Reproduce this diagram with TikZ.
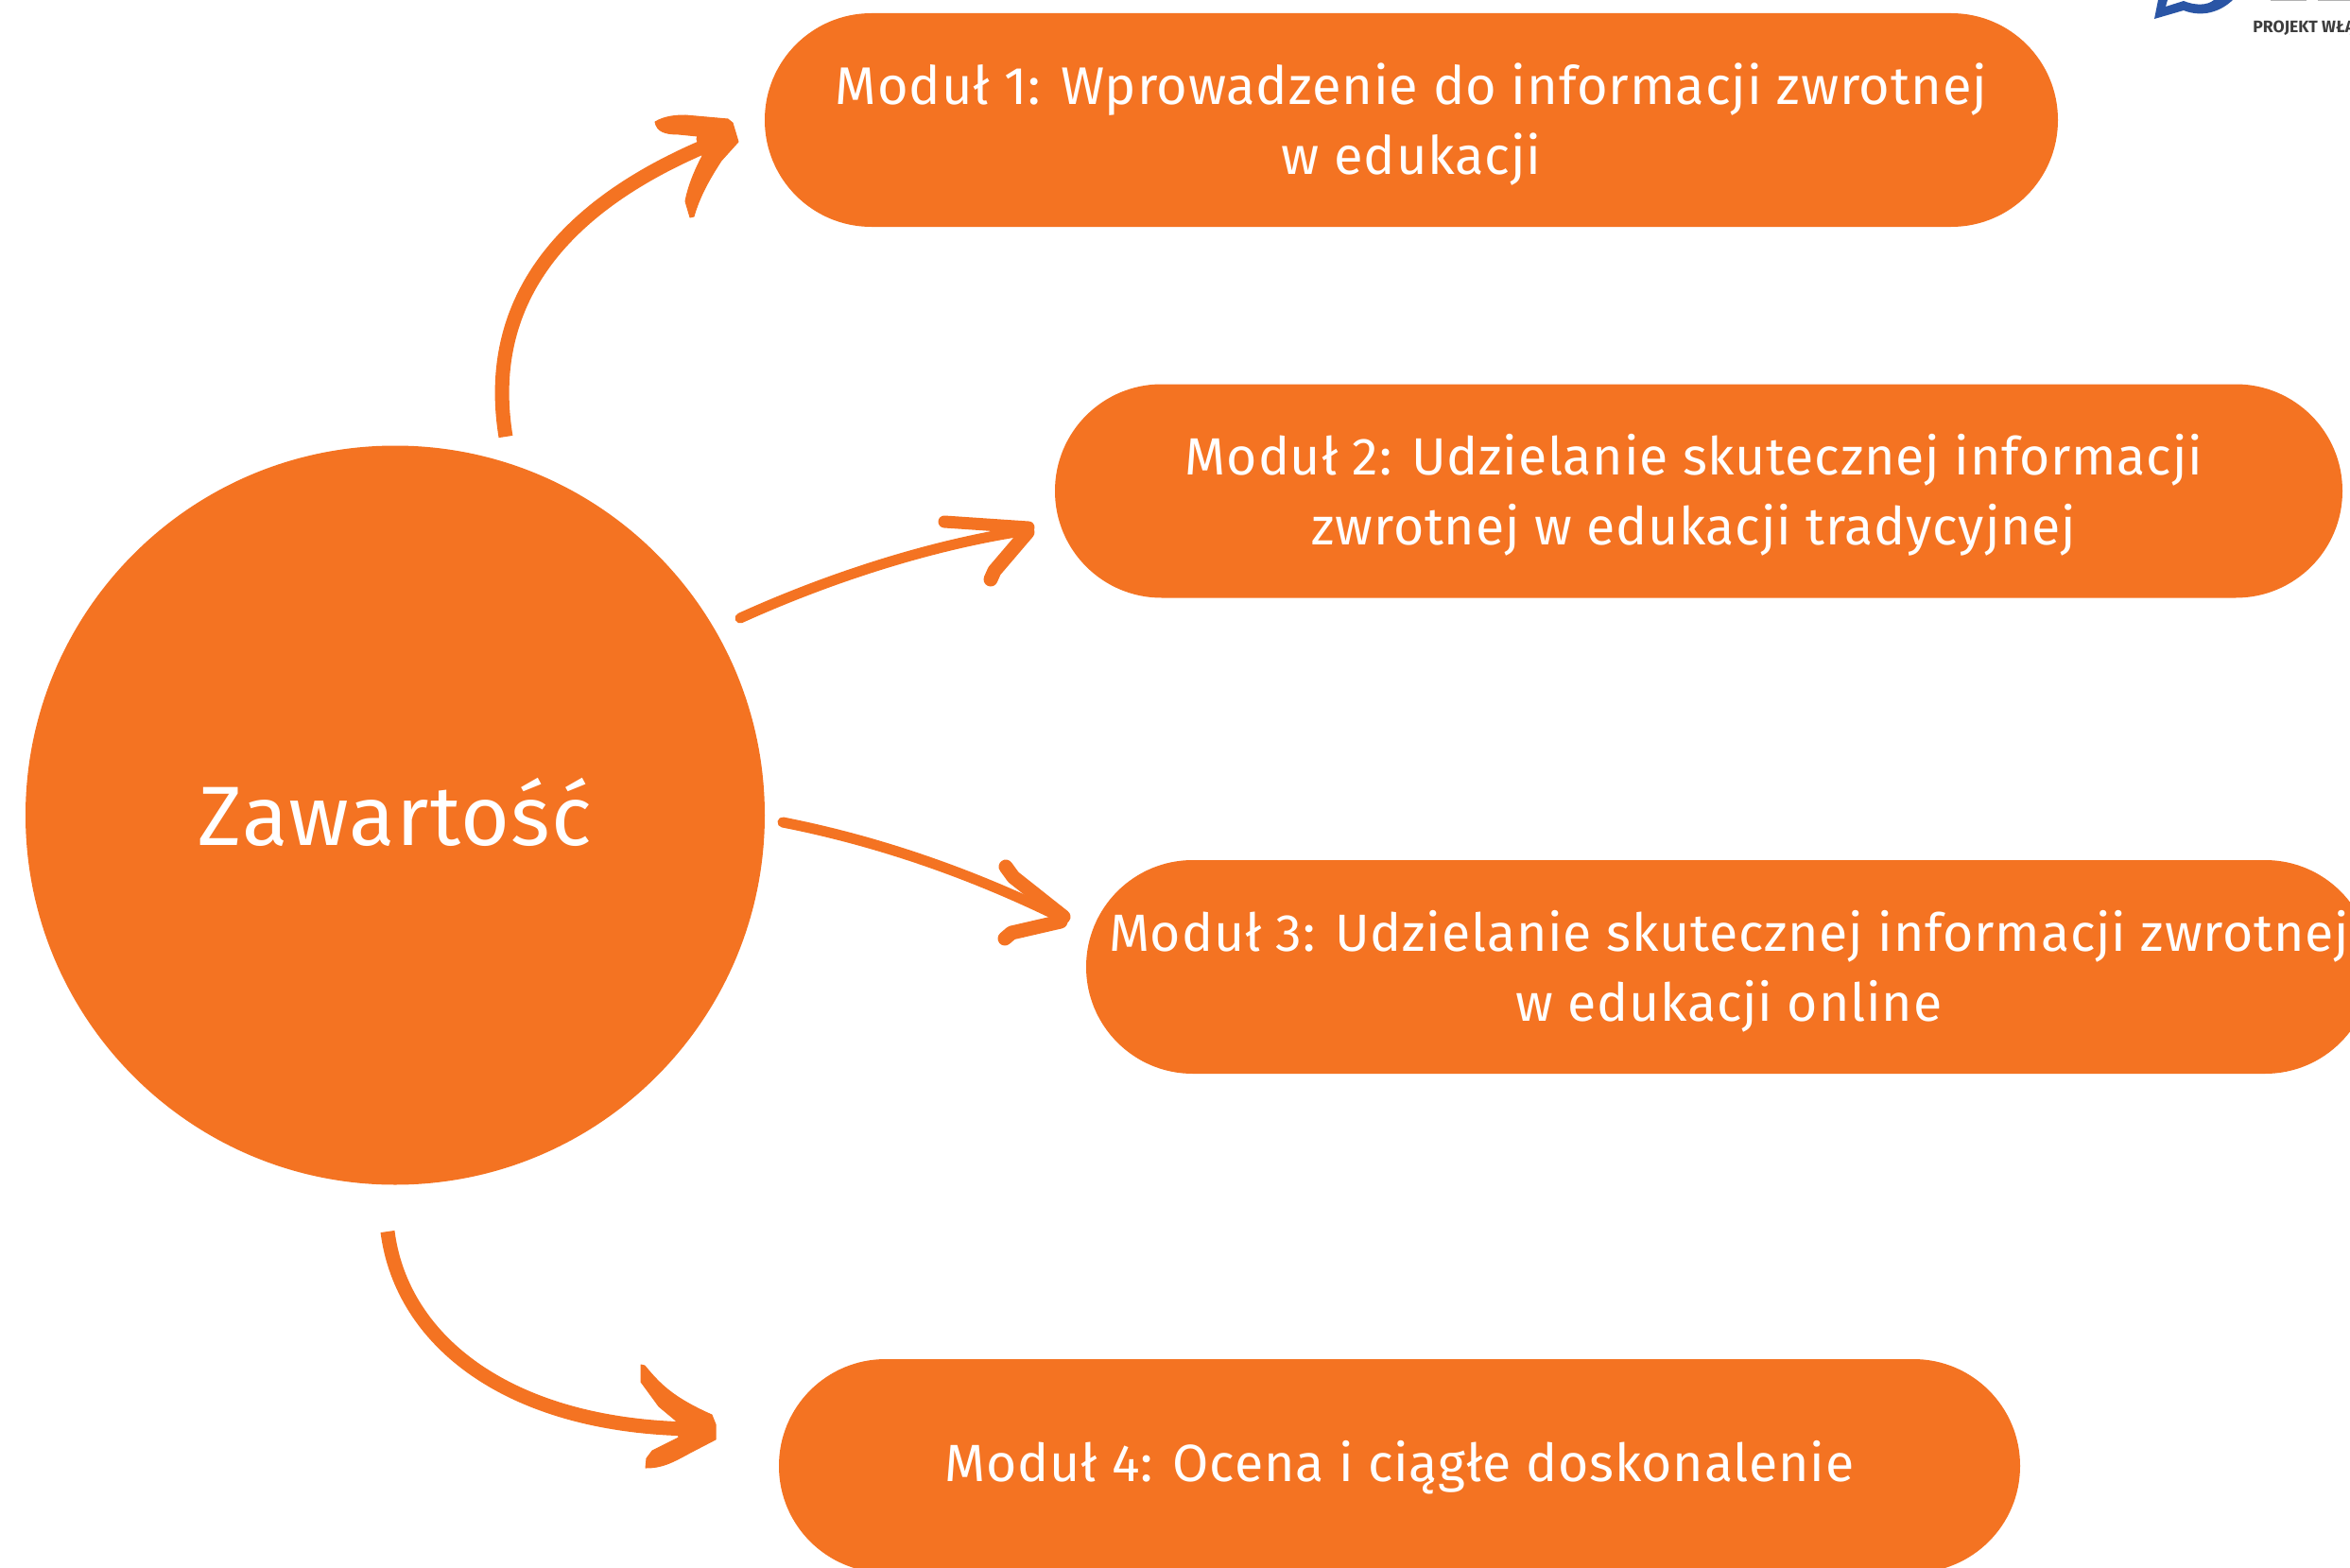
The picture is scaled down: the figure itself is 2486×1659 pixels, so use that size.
\documentclass[tikz,border=0pt]{standalone}
\usepackage{fontspec}
\setmainfont{Fira Sans}
\newfontfamily\bodyfont[LetterSpace=1.5]{Fira Sans}
\newfontfamily\logofont{Fira Sans}
\definecolor{brand}{HTML}{F47322}
\definecolor{logoblue}{HTML}{2A55A5}
\definecolor{logogray}{HTML}{3D3D3D}
\newcommand{\padtop}[1]{\rule{0pt}{#1}}
\newcommand{\nudge}{\hspace*{5pt}}
\tikzset{
  x=0.5pt,y=-0.5pt,
  pill/.style={rectangle,rounded corners=56.4pt,fill=brand,inner sep=0pt,text=white,align=center,minimum height=113pt,
    font=\bodyfont\fontsize{27.7}{37}\selectfont},
  hub/.style={circle,fill=brand,inner sep=0pt,minimum size=391pt,text=white,
    font=\bodyfont\fontsize{44.5}{50}\selectfont},
  shaftthick/.style={draw=brand,line width=7.5pt,line cap=butt},
  shaftthin/.style={draw=brand,line width=5.5pt,line cap=round,line join=round},
  barb/.style={draw=brand,line width=6.5pt,line cap=round,line join=round},
  brush/.style={fill=brand,draw=brand,line width=0.5pt,line join=round},
}
\begin{document}
\begin{tikzpicture}
\clip (0,0) rectangle (2486,1659);
\fill[white] (0,0) rectangle (2486,1659);
% logo fragment
\fill[logoblue] (2283,0) -- (2279,20) -- (2310,11) .. controls (2325,17) and (2345,16) .. (2362,0)
  -- (2342,0) .. controls (2335,6) and (2322,6) .. (2310,1) -- (2291,7) -- (2293,0) -- cycle;
\fill[gray!60] (2402,0) rectangle (2440,1);
\fill[gray!60] (2452,0) rectangle (2486,1);
\node[anchor=base west,inner sep=0pt,text=logogray,font=\logofont\bfseries\fontsize{8.8}{10}\selectfont] (logotext) at (2383,35) {PROJEKT WŁĄ};
% nodes
\node[hub] (center) at (418,862.5) {\rule[-4pt]{0pt}{4pt}Zawartość};
\node[pill,minimum width=684pt,font=\bodyfont\fontsize{28}{37}\selectfont] (m1) at (1493,127) {\padtop{26pt}Moduł 1: Wprowadzenie do informacji zwrotnej\\w edukacji};
\node[pill,minimum width=681pt] (m2) at (1797,519.5) {\padtop{26pt}Moduł 2: Udzielanie skutecznej informacji\nudge\\zwrotnej w edukacji tradycyjnej\nudge};
\node[pill,minimum width=680pt] (m3) at (1829,1023) {\padtop{26pt}Moduł 3: Udzielanie skutecznej informacji zwrotnej\\w edukacji online};
\node[pill,minimum width=656.5pt] (m4) at (1480.5,1551) {\padtop{23.7pt}Moduł 4: Ocena i ciągłe doskonalenie};
% connector ends
\coordinate (a1s) at (535,462);
\coordinate (a1e) at (745,155);
\coordinate (a2s) at (783,654);
\coordinate (a2e) at (1088,561);
\coordinate (a3s) at (828,870);
\coordinate (a3e) at (1125,972);
\coordinate (a4s) at (410,1303);
\coordinate (a4e) at (735,1512);
% arrow 1
\draw[shaftthick] (a1s) .. controls (515,340) and (570,230) .. (a1e);
\filldraw[brush] (693,129) .. controls (703,123) and (715,122) .. (725,122) -- (770,126) -- (775,130) -- (781,150) -- (763,170)
  .. controls (750,190) and (740,208) .. (734,229) -- (730,230) -- (725,213) .. controls (728,197) and (735,180) .. (743,165)
  -- (737,147) -- (738,144) -- (718,142) .. controls (703,142) and (695,139) .. (693,129) -- cycle;
% arrow 2
\draw[shaftthin] (a2s) .. controls (880,610) and (990,575) .. (a2e);
\draw[barb] (999,552) -- (1088,558);
\draw[barb,line width=7.5pt] (1048,613) -- (1052,604) -- (1087,563);
% arrow 3
\draw[shaftthin] (a3s) .. controls (930,890) and (1030,925) .. (a3e);
\draw[barb,line width=7.5pt] (1064,917) -- (1072,928) -- (1125,970);
\draw[barb,line width=7.5pt] (1063,993) -- (1070,987) -- (1122,975);
% arrow 4
\draw[shaftthick] (a4s) .. controls (425,1420) and (540,1510) .. (a4e);
\filldraw[brush] (678,1444) -- (682,1445) .. controls (697,1463) and (710,1478) .. (753,1497) -- (757,1507) -- (757,1523)
  -- (730,1537) .. controls (710,1548) and (700,1553) .. (683,1553) -- (684,1543) -- (690,1535) -- (718,1521)
  -- (715,1503) -- (697,1488) -- (678,1462) -- cycle;
\end{tikzpicture}
\end{document}
